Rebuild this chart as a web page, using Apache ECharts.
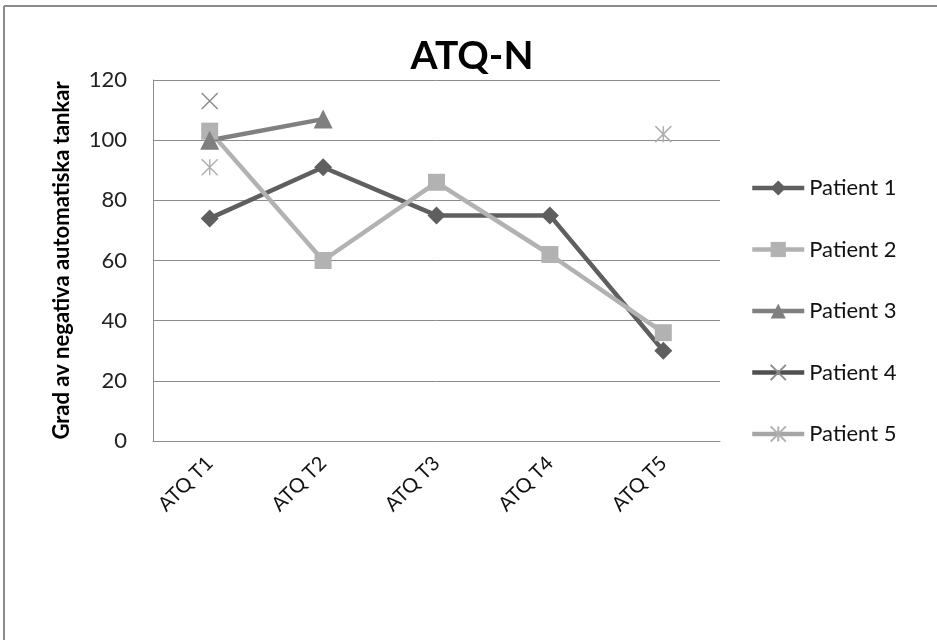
<!DOCTYPE html>
<html>
<head>
<meta charset="utf-8">
<script src="https://cdn.jsdelivr.net/npm/echarts@6/dist/echarts.min.js"></script>
<style>
  html, body { margin: 0; padding: 0; background: #fff; }
  #chart { width: 937px; height: 640px; }
</style>
</head>
<body>
<div id="chart"></div>
<script>
// Measurement points and patient scores (ATQ-N)
var categories = ['ATQ T1', 'ATQ T2', 'ATQ T3', 'ATQ T4', 'ATQ T5'];
var patient1 = [74, 91, 75, 75, 30];
var patient2 = [103, 60, 86, 62, 36];
var patient3 = [100, 107, null, null, null];
var patient4 = [113, null, null, null, null];
var patient5 = [91, null, null, null, 102];
var yTicks = { min: 0, max: 120, interval: 20 };

var FONT = 'Lato, "Open Sans", sans-serif';

// Stroke-only marker shapes
var SYM_X = 'path://M0,0L10,10M10,0L0,10';
var SYM_STAR = 'path://M0,0L10,10M10,0L0,10M5,0L5,10';

function makeSeries(name, data, color, symbol, size, markerStyle) {
  return {
    name: name,
    type: 'line',
    data: data,
    connectNulls: false,
    symbol: symbol,
    symbolSize: size,
    showAllSymbol: true,
    lineStyle: { color: color, width: 4.5 },
    itemStyle: markerStyle || { color: color },
    emphasis: { disabled: true },
    z: 3
  };
}

var chart = echarts.init(document.getElementById('chart'), null, { renderer: 'canvas' });
chart.setOption({
  animation: false,
  backgroundColor: '#ffffff',
  title: {
    text: 'ATQ-N',
    left: 467,
    textAlign: 'center',
    top: 32,
    textStyle: { fontFamily: FONT, fontWeight: 'bold', fontSize: 39, color: '#000' }
  },
  grid: { left: 153, right: 217, top: 80, bottom: 199, containLabel: false },
  xAxis: {
    type: 'category',
    data: categories,
    boundaryGap: true,
    axisLine: { lineStyle: { color: '#8c8c8c', width: 1 } },
    axisTick: { show: false },
    axisLabel: { rotate: 45, margin: 19, fontFamily: FONT, fontSize: 20, color: '#111' }
  },
  yAxis: {
    type: 'value',
    min: yTicks.min,
    max: yTicks.max,
    interval: yTicks.interval,
    name: 'Grad av negativa automatiska tankar',
    nameLocation: 'middle',
    nameGap: 80,
    nameTextStyle: { fontFamily: FONT, fontWeight: 'bold', fontSize: 22, color: '#000' },
    axisLine: { show: true, lineStyle: { color: '#8c8c8c', width: 1 } },
    axisTick: { show: false },
    axisLabel: { margin: 26, fontFamily: FONT, fontSize: 22, color: '#222' },
    splitLine: { lineStyle: { color: '#8c8c8c', width: 1 } }
  },
  legend: {
    orient: 'vertical',
    left: 745,
    top: 172,
    itemWidth: 52,
    itemHeight: 19,
    itemGap: 39.5,
    lineStyle: { width: 4.5 },
    textStyle: { fontFamily: FONT, fontSize: 22, color: '#111' },
    data: ['Patient 1', 'Patient 2', 'Patient 3', 'Patient 4', 'Patient 5']
  },
  series: [
    makeSeries('Patient 1', patient1, '#5f5f5f', 'diamond', 18),
    makeSeries('Patient 2', patient2, '#b2b2b2', 'rect', 17),
    makeSeries('Patient 3', patient3, '#808080', 'triangle', 19),
    makeSeries('Patient 4', patient4, '#4f4f4f', SYM_X, 16,
      { color: 'rgba(0,0,0,0)', borderColor: '#8c8c8c', borderWidth: 1.5 }),
    makeSeries('Patient 5', patient5, '#a6a6a6', SYM_STAR, 16,
      { color: 'rgba(0,0,0,0)', borderColor: '#b0b0b0', borderWidth: 1.5 })
  ],
  graphic: [
    { type: 'line', shape: { x1: 4, y1: 6, x2: 937, y2: 6 }, style: { stroke: '#8a8a8a', lineWidth: 2 }, silent: true },
    { type: 'line', shape: { x1: 4, y1: 6, x2: 4, y2: 640 }, style: { stroke: '#8a8a8a', lineWidth: 2 }, silent: true }
  ]
});
</script>
</body>
</html>
